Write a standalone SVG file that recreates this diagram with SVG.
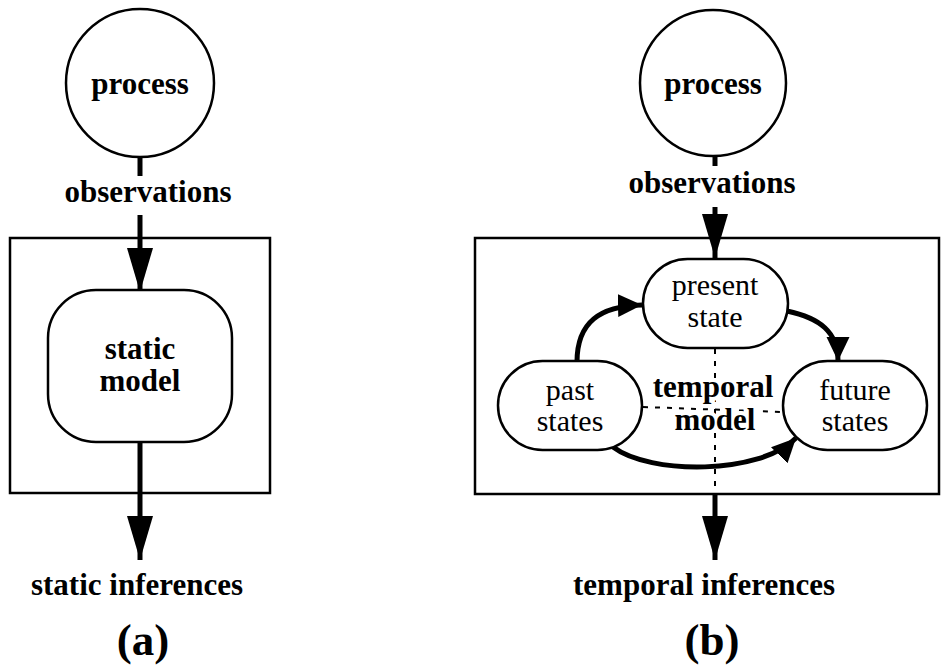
<svg xmlns="http://www.w3.org/2000/svg" width="941" height="670" viewBox="0 0 941 670">
<style>
.sh{fill:#fff;stroke:#000;stroke-width:2.5}
.frame{fill:none;stroke:#000;stroke-width:2.5}
.b{font-family:"Liberation Serif","Times New Roman",serif;font-weight:bold;font-size:31px;text-anchor:middle;fill:#000}
.r{font-family:"Liberation Serif","Times New Roman",serif;font-size:30px;text-anchor:middle;fill:#000}
.cap{font-family:"Liberation Serif","Times New Roman",serif;font-weight:bold;font-size:45px;text-anchor:middle;fill:#000}
.thick{fill:none;stroke:#000;stroke-width:5}
.dot{fill:none;stroke:#000;stroke-width:2;stroke-dasharray:5,7}
.halo{stroke:#fff;stroke-width:8;stroke-linejoin:round;paint-order:stroke}
</style>
<defs>
<marker id="big" markerUnits="userSpaceOnUse" markerWidth="44" markerHeight="28" refX="44" refY="14" orient="auto">
<path d="M0,1 L44,14 L0,27 Z" fill="#000"/>
</marker>
<marker id="sm" markerUnits="userSpaceOnUse" markerWidth="26" markerHeight="26" refX="24" refY="13" orient="auto">
<path d="M0,1.5 L24,13 L0,24.5 Z" fill="#000"/>
</marker>
</defs>

<g id="frame-a"><rect class="frame" x="10" y="238" width="260" height="255"/></g>
<g id="frame-b"><rect class="frame" x="475" y="238" width="464" height="256"/></g>

<g id="connectors">
<line class="thick" x1="140" y1="157" x2="140" y2="176"/>
<line class="thick" x1="140" y1="215" x2="140" y2="292" marker-end="url(#big)"/>
<line class="thick" x1="140" y1="442" x2="140" y2="560" marker-end="url(#big)"/>
<line class="thick" x1="715" y1="156" x2="715" y2="166"/>
<line class="thick" x1="715" y1="207" x2="715" y2="258" marker-end="url(#big)"/>
<line class="dot" x1="715" y1="349" x2="715" y2="494"/>
<line class="thick" x1="715" y1="494" x2="715" y2="560" marker-end="url(#big)"/>
<line class="dot" x1="643" y1="407" x2="783" y2="412"/>
<path class="thick" d="M577,362 C577,322 600,306 642,305" marker-end="url(#sm)"/>
<path class="thick" d="M787,311 C820,318 838,332 838,361" marker-end="url(#sm)"/>
<path class="thick" d="M613,447 C650,475 760,475 796,438" marker-end="url(#sm)"/>
</g>

<g id="process-a">
<circle class="sh" cx="140" cy="83" r="74"/>
<text class="b" x="140" y="94">process</text>
</g>
<g id="observations-a"><text class="b" x="148" y="202">observations</text></g>
<g id="static-model">
<rect class="sh" x="48" y="290" width="184" height="152" rx="48" ry="48"/>
<text class="b" x="140" y="359">static</text>
<text class="b" x="140" y="391">model</text>
</g>
<g id="static-inferences"><text class="b" x="137" y="595">static inferences</text></g>
<g id="label-a"><text class="cap" x="143" y="655">(a)</text></g>

<g id="process-b">
<circle class="sh" cx="713" cy="83" r="73"/>
<text class="b" x="713" y="94">process</text>
</g>
<g id="observations-b"><text class="b" x="712" y="193">observations</text></g>
<g id="present-state">
<rect class="sh" x="643" y="259" width="145" height="89" rx="44.5" ry="44.5"/>
<text class="r" x="715" y="295">present</text>
<text class="r" x="715" y="327">state</text>
</g>
<g id="past-states">
<rect class="sh" x="498" y="361" width="144" height="89" rx="44.5" ry="44.5"/>
<text class="r" x="570" y="400">past</text>
<text class="r" x="570" y="431">states</text>
</g>
<g id="future-states">
<rect class="sh" x="783" y="361" width="144" height="89" rx="44.5" ry="44.5"/>
<text class="r" x="855" y="400">future</text>
<text class="r" x="855" y="431">states</text>
</g>
<g id="temporal-model">
<text class="b halo" x="713" y="397">temporal</text>
<text class="b halo" x="715" y="430">model</text>
</g>
<g id="temporal-inferences"><text class="b" x="704" y="595">temporal inferences</text></g>
<g id="label-b"><text class="cap" x="712" y="655">(b)</text></g>
</svg>
